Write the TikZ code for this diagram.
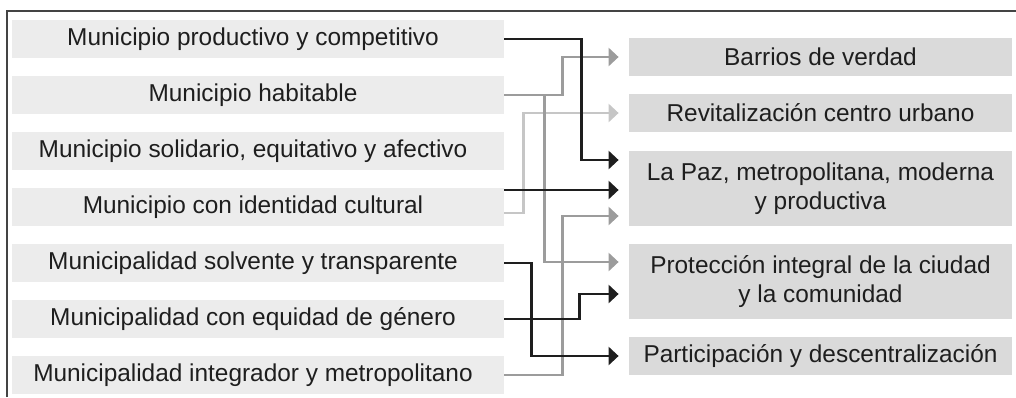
\documentclass[tikz,border=0pt]{standalone}
\usepackage{fontspec}
\setmainfont{Liberation Sans}
\usetikzlibrary{arrows.meta,calc}
\definecolor{lbox}{HTML}{ECECEC}
\definecolor{rbox}{HTML}{DADADA}
\definecolor{ink}{HTML}{1E1E1E}
\definecolor{midg}{HTML}{9C9C9C}
\definecolor{lightg}{HTML}{C6C6C6}
\definecolor{framec}{HTML}{444444}
\tikzset{
  lbx/.style={fill=lbox, minimum width=246pt, minimum height=19pt, inner sep=0pt, text=ink,
     font=\fontsize{12.2}{14.6}\selectfont, execute at begin node={\kern-5pt}},
  rbx/.style={fill=rbox, minimum width=191.5pt, inner sep=0pt, text=ink, align=center,
     font=\fontsize{12.2}{14.6}\selectfont},
  conn/.style={line width=1.25pt, -{Triangle[length=5pt,width=9pt]}, shorten >=5pt},
  blk/.style={conn, draw=ink},
  mgr/.style={conn, draw=midg},
  lgr/.style={conn, draw=lightg},
}
\begin{document}
\begin{tikzpicture}[x=0.5pt,y=-0.5pt]
\useasboundingbox (0,0) rectangle (1016,397);
\draw[framec, line width=1pt] (7,397) -- (7,11) -- (1016,11);

\node[lbx] (L1) at (258,39)  {Municipio productivo y competitivo};
\node[lbx] (L2) at (258,95)  {Municipio habitable};
\node[lbx] (L3) at (258,151) {Municipio solidario, equitativo y afectivo};
\node[lbx] (L4) at (258,207) {Municipio con identidad cultural};
\node[lbx] (L5) at (258,263) {Municipalidad solvente y transparente};
\node[lbx] (L6) at (258,319) {Municipalidad con equidad de género};
\node[lbx] (L7) at (258,375) {Municipalidad integrador y metropolitano};

\node[rbx, minimum height=19pt]   (R1) at (820.5,57)    {Barrios de verdad};
\node[rbx, minimum height=19pt]   (R2) at (820.5,113)   {Revitalización centro urbano};
\node[rbx, minimum height=37.5pt] (R3) at (820.5,188.5) {La Paz, metropolitana, moderna\\y productiva};
\node[rbx, minimum height=37.5pt] (R4) at (820.5,281.5) {Protección integral de la ciudad\\y la comunidad};
\node[rbx, minimum height=19pt]   (R5) at (820.5,356)   {Participación y descentralización};

% light and mid grey connectors
\draw[lgr] ($(L4.east)+(0,6)$) -- ++(19,0) |- (R2.west);
\draw[mgr] (L2.east) -- ++(58,0) |- (R1.west);
\draw[mgr] ($(L2.east)+(40,0)$) |- ($(R4.west)+(0,-19.5)$);
\draw[mgr] (L7.east) -- ++(58,0) |- ($(R3.west)+(0,27.5)$);

% black connectors
\draw[blk] (L1.east) -- ++(77,0) |- ($(R3.west)+(0,-28.5)$);
\draw[blk] ($(L4.east)+(0,-17)$) -- ($(R3.west)+(0,1.5)$);
\draw[blk] (L5.east) -- ++(27,0) |- (R5.west);
\draw[blk] (L6.east) -- ++(75,0) |- ($(R4.west)+(0,12.5)$);
\end{tikzpicture}
\end{document}
